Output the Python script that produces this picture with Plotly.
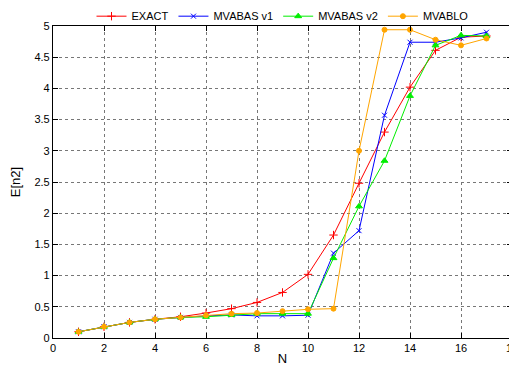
import plotly.graph_objects as go

N = [1, 2, 3, 4, 5, 6, 7, 8, 9, 10, 11, 12, 13, 14, 15, 16, 17]
exact = [0.10, 0.18, 0.25, 0.30, 0.34, 0.40, 0.47, 0.57, 0.73, 1.02, 1.65, 2.48, 3.30, 4.02, 4.61, 4.82, 4.84]
mvabas_v1 = [0.10, 0.18, 0.25, 0.30, 0.33, 0.355, 0.37, 0.355, 0.355, 0.365, 1.36, 1.72, 3.57, 4.74, 4.74, 4.81, 4.90]
mvabas_v2 = [0.10, 0.18, 0.25, 0.30, 0.33, 0.34, 0.37, 0.39, 0.39, 0.39, 1.28, 2.11, 2.84, 3.88, 4.69, 4.85, 4.84]
mvablo = [0.10, 0.18, 0.25, 0.30, 0.33, 0.365, 0.39, 0.40, 0.43, 0.46, 0.47, 3.00, 4.94, 4.94, 4.78, 4.69, 4.80]

names = ["EXACT", "MVABAS v1", "MVABAS v2", "MVABLO"]
colors = ["#ff0000", "#0000ff", "#00ee00", "#ffa500"]
symbols = ["cross-thin", "x-thin", "triangle-up", "circle"]
sizes = [6, 5, 6, 5]
series = [exact, mvabas_v1, mvabas_v2, mvablo]

fig = go.Figure()
for name, ys, c, s, sz in zip(names, series, colors, symbols, sizes):
    fig.add_trace(go.Scatter(
        x=N, y=ys, name=name, mode="lines+markers",
        line=dict(color=c, width=1),
        marker=dict(symbol=s, size=sz, color=c, line=dict(color=c, width=1)),
    ))

axis_common = dict(
    showgrid=True, gridcolor="#777777", griddash="dot", gridwidth=1,
    zeroline=False, showline=True, linecolor="black", linewidth=1.2,
    mirror="allticks", ticks="inside", ticklen=5, tickcolor="black",
    tickfont=dict(family="Liberation Sans, Arial, sans-serif", size=11, color="black"),
    automargin=False, ticklabeloverflow="allow",
)

fig.update_layout(
    width=509, height=367,
    margin=dict(l=45, r=5, t=18, b=37, autoexpand=False),
    paper_bgcolor="white", plot_bgcolor="white",
    font=dict(family="Liberation Sans, Arial, sans-serif", size=11, color="black"),
    xaxis=dict(range=[0, 18], dtick=2, title=dict(text="N", standoff=0), **axis_common),
    yaxis=dict(range=[0, 5], dtick=0.5, title=dict(text="E[n2]", standoff=10), **axis_common),
    legend=dict(orientation="h", x=0.50, xanchor="center", yref="paper", y=0.985, yanchor="bottom",
                font=dict(size=11), bgcolor="rgba(0,0,0,0)", itemwidth=30,
                tracegroupgap=0),
    showlegend=True,
)

fig.write_html("out.html")
